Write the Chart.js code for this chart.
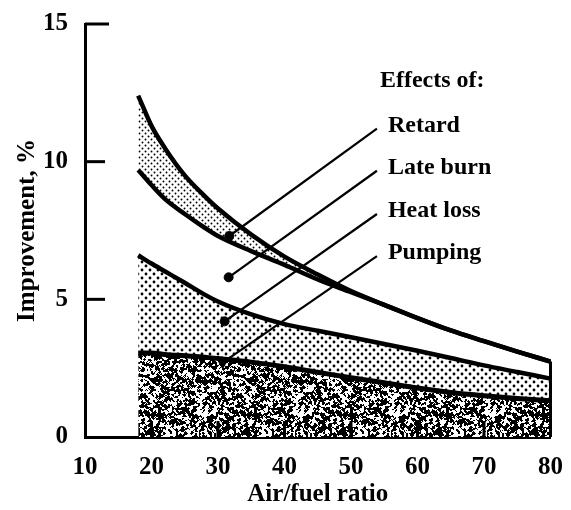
<!DOCTYPE html>
<html>
<head>
<meta charset="utf-8">
<title>Improvement vs air/fuel ratio</title>
<script src="https://cdn.jsdelivr.net/npm/chart.js@4.4.1/dist/chart.umd.min.js"></script>
<style>
  html, body { margin: 0; padding: 0; background: #fff; }
</style>
</head>
<body>
<canvas id="chart" width="571" height="510"></canvas>
<script>
// Air/fuel ratio sample points shared by every curve
const airFuel = [18, 20, 22, 25, 28, 30, 35, 40, 45, 50, 55, 60, 65, 70, 75, 80];

// Upper boundary of each band (improvement, %)
const retard   = [12.4, 11.3, 10.5, 9.5, 8.75, 8.3, 7.35, 6.55, 5.9, 5.3, 4.8, 4.32, 3.87, 3.48, 3.1, 2.74];
const lateBurn = [9.7, 9.15, 8.65, 8.1, 7.6, 7.3, 6.75, 6.25, 5.72, 5.26, 4.8, 4.32, 3.87, 3.48, 3.1, 2.74];
const heatLoss = [6.6, 6.3, 6.02, 5.6, 5.17, 4.92, 4.45, 4.1, 3.86, 3.62, 3.38, 3.13, 2.87, 2.6, 2.36, 2.12];
const pumping  = [3.05, 3.05, 3.0, 2.95, 2.9, 2.85, 2.72, 2.55, 2.35, 2.15, 1.97, 1.78, 1.62, 1.5, 1.4, 1.32];

const xTicks = [10, 20, 30, 40, 50, 60, 70, 80];
const yTicks = [0, 5, 10, 15];

// Leader lines: from a marker inside the band up to its label
const effectNames = ['Retard', 'Late burn', 'Heat loss', 'Pumping'];
const leaderFromX = [31.7, 31.6, 31.0, 30.7];
const leaderFromY = [7.3, 5.8, 4.2, 2.7];
const leaderToX = [53.9, 53.9, 53.9, 53.9];
const leaderToY = [11.2, 9.67, 8.1, 6.57];

const pts = vals => airFuel.map((x, i) => ({ x, y: vals[i] }));

// --- fill textures ---
function dotPattern(size, dots, r) {
  const c = document.createElement('canvas');
  c.width = c.height = size;
  const g = c.getContext('2d');
  g.fillStyle = '#fff';
  g.fillRect(0, 0, size, size);
  g.fillStyle = '#000';
  dots.forEach(([dx, dy]) => {
    g.beginPath();
    g.arc(dx, dy, r, 0, Math.PI * 2);
    g.fill();
  });
  return g.createPattern(c, 'repeat');
}

function hash(x, y) {
  let h = (x * 374761393 + y * 668265263) | 0;
  h = Math.imul(h ^ (h >>> 13), 1274126177);
  return ((h ^ (h >>> 16)) >>> 0) / 4294967295;
}

// grainy black/white texture, tile wraps cleanly
function speckle() {
  const size = 96;
  const c = document.createElement('canvas');
  c.width = c.height = size;
  const g = c.getContext('2d');
  const img = g.createImageData(size, size);
  for (let py = 0; py < size; py++) {
    for (let px = 0; px < size; px++) {
      let s = 0;
      for (let j = -1; j <= 1; j++) {
        for (let i = -1; i <= 1; i++) {
          const w = (i === 0 && j === 0) ? 3 : 1;
          s += hash((px + i + size) % size, (py + j + size) % size) * w;
        }
      }
      s /= 11;
      const v = s > 0.485 ? 0 : 255;
      const k = (py * size + px) * 4;
      img.data[k] = img.data[k + 1] = img.data[k + 2] = v;
      img.data[k + 3] = 255;
    }
  }
  g.putImageData(img, 0, 0);
  return g.createPattern(c, 'repeat');
}

const fineDots = dotPattern(6, [[1.5, 1.5], [4.5, 4.5]], 0.95);
const coarseDots = dotPattern(8, [[2, 2], [6, 6]], 1.4);
const noise = speckle();

const serif = '"Liberation Serif", "DejaVu Serif", serif';

const curve = (data, extra) => Object.assign({
  data,
  borderColor: '#000',
  borderWidth: 4.5,
  pointRadius: 0,
  cubicInterpolationMode: 'monotone',
  clip: 8
}, extra);

const leaders = effectNames.map((name, i) => ({
  label: name + ' leader',
  data: [
    { x: leaderFromX[i], y: leaderFromY[i] },
    { x: leaderToX[i], y: leaderToY[i] }
  ],
  order: -1,
  borderColor: '#000',
  borderWidth: 2.2,
  backgroundColor: '#000',
  pointBorderColor: '#000',
  pointBorderWidth: 1,
  pointRadius: [i === 3 ? 6 : 4.5, 0],
  pointStyle: i === 3 ? 'triangle' : 'circle',
  pointRotation: i === 3 ? 180 : 0,
  fill: false,
  clip: 8
}));

// Inward tick marks on both axes
const tickMarks = {
  id: 'tickMarks',
  afterDatasetsDraw(chart) {
    const { ctx, scales: { x, y } } = chart;
    ctx.save();
    ctx.strokeStyle = '#000';
    ctx.lineWidth = 3;
    yTicks.slice(1).forEach(v => {
      const py = y.getPixelForValue(v);
      ctx.beginPath();
      ctx.moveTo(x.left, py);
      ctx.lineTo(x.left + (v === 15 ? 24 : 20), py);
      ctx.stroke();
    });
    xTicks.slice(1, -1).forEach(v => {
      const px = x.getPixelForValue(v);
      ctx.beginPath();
      ctx.moveTo(px, y.bottom);
      ctx.lineTo(px, y.bottom - 16);
      ctx.stroke();
    });
    ctx.restore();
  }
};

// Labels at the top of each leader line
const effectLabels = {
  id: 'effectLabels',
  afterDatasetsDraw(chart) {
    const { ctx, scales: { x, y } } = chart;
    ctx.save();
    ctx.fillStyle = '#000';
    ctx.font = 'bold 24px ' + serif;
    ctx.textBaseline = 'alphabetic';
    effectNames.forEach((name, i) => {
      const px = x.getPixelForValue(leaderToX[i]);
      const py = y.getPixelForValue(leaderToY[i]);
      ctx.fillText(name, px + 11, py + 3);
    });
    const px0 = x.getPixelForValue(leaderToX[0]);
    const py0 = y.getPixelForValue(leaderToY[0]);
    ctx.fillText('Effects of:', px0 + 3, py0 - 42);
    ctx.restore();
  }
};

new Chart(document.getElementById('chart'), {
  type: 'line',
  data: {
    datasets: [
      curve(pts(retard), { label: 'Retard', fill: '+1', backgroundColor: fineDots }),
      curve(pts(lateBurn), { label: 'Late burn', fill: false }),
      curve(pts(heatLoss), { label: 'Heat loss', fill: '+1', backgroundColor: coarseDots }),
      curve(pts(pumping), { label: 'Pumping', fill: 'origin', backgroundColor: noise, borderWidth: 5 }),
      curve([{ x: 80, y: 0 }, { x: 80, y: retard[retard.length - 1] }], { label: 'edge', borderWidth: 3, fill: false }),
      ...leaders
    ]
  },
  options: {
    responsive: false,
    animation: false,
    devicePixelRatio: 1,
    layout: { padding: { top: 22, right: 13, left: 0, bottom: 0 } },
    plugins: {
      legend: { display: false },
      tooltip: { enabled: false },
      filler: { drawTime: 'beforeDatasetsDraw' }
    },
    scales: {
      x: {
        type: 'linear',
        min: 10,
        max: 80,
        grid: { display: false },
        border: { display: true, color: '#000', width: 3 },
        afterFit: s => { s.height = 73; },
        ticks: {
          stepSize: 10,
          color: '#000',
          padding: 8,
          maxRotation: 0,
          font: { family: serif, size: 25, weight: 'bold' }
        },
        title: {
          display: true,
          text: 'Air/fuel ratio',
          color: '#000',
          padding: { top: 5, bottom: 0 },
          font: { family: serif, size: 25, weight: 'bold' }
        }
      },
      y: {
        min: 0,
        max: 15,
        grid: { display: false },
        border: { display: true, color: '#000', width: 3 },
        afterFit: s => { s.width = 85; },
        ticks: {
          stepSize: 5,
          color: '#000',
          padding: 9,
          font: { family: serif, size: 25, weight: 'bold' }
        },
        title: {
          display: true,
          text: 'Improvement, %',
          color: '#000',
          padding: { top: 13, bottom: 0 },
          font: { family: serif, size: 25, weight: 'bold' }
        }
      }
    }
  },
  plugins: [tickMarks, effectLabels]
});
</script>
</body>
</html>
